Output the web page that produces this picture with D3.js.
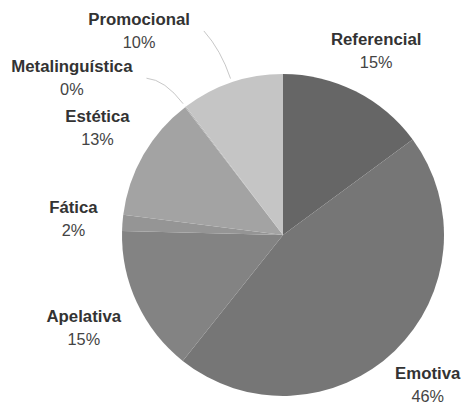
<!DOCTYPE html>
<html>
<head>
<meta charset="utf-8">
<script src="https://cdn.jsdelivr.net/npm/d3@7/dist/d3.min.js"></script>
<style>
  html, body { margin: 0; padding: 0; background: #fff; }
  svg { display: block; }
  text { font-family: "Liberation Sans", Arial, sans-serif; }
</style>
</head>
<body>
<svg id="chart" width="461" height="402"></svg>
<script>
// ---- data ----
const categories = ["Referencial", "Emotiva", "Apelativa", "Fática", "Estética", "Metalinguística", "Promocional"];
const values = [14.9, 45.8, 14.7, 1.6, 12.6, 0.1, 10.3];
const colors = ["#666666", "#767676", "#838383", "#959595", "#a3a3a3", "#b3b3b3", "#c5c5c5"];

// ---- layout ----
const W = 461, H = 402;
const cx = 283, cy = 235, radius = 161;
// labels that were moved away from their slice (polar: degrees clockwise from top, distance)
const labelMoved = { "Metalinguística": [306.6, 263], "Promocional": [324.8, 249.7] };

const svg = d3.select("#chart");
svg.append("rect").attr("width", W).attr("height", H).attr("fill", "#fff");

const data = categories.map((c, i) => ({ name: c, value: values[i], color: colors[i] }));
const total = d3.sum(values);

const pie = d3.pie().sort(null).value(d => d.value).startAngle(0).endAngle(2 * Math.PI);
const arcs = pie(data);
const arc = d3.arc().innerRadius(0).outerRadius(radius);

const g = svg.append("g").attr("transform", `translate(${cx},${cy})`);

g.selectAll("path.slice")
  .data(arcs)
  .join("path")
  .attr("class", "slice")
  .attr("d", arc)
  .attr("fill", d => d.data.color);

const polar = (ang, r) => [r * Math.sin(ang), -r * Math.cos(ang)];

// labels
const labels = g.selectAll("g.label")
  .data(arcs)
  .join("g")
  .attr("class", "label");

labels.append("text")
  .attr("class", "name")
  .attr("text-anchor", "middle")
  .attr("y", -6)
  .attr("font-size", 16.8)
  .attr("font-weight", "bold")
  .attr("fill", "#333")
  .text(d => d.data.name);

labels.append("text")
  .attr("class", "pct")
  .attr("text-anchor", "middle")
  .attr("y", 17)
  .attr("font-size", 16.3)
  .attr("fill", "#444")
  .text(d => Math.round(d.data.value / total * 100) + "%");

labels.each(function(d) {
  const sel = d3.select(this);
  const mid = (d.startAngle + d.endAngle) / 2;
  const hw = sel.select("text.name").node().getComputedTextLength() / 2;
  let pos;
  if (labelMoved[d.data.name]) {
    const m = labelMoved[d.data.name];
    pos = polar(m[0] * Math.PI / 180, m[1]);
    // leader line from slice edge to the label
    const p0 = polar(mid, radius + 4);
    const c = polar(mid, radius + 34);
    const p2 = [pos[0] + hw + 14, pos[1]];
    const path = d3.path();
    path.moveTo(p0[0], p0[1]);
    path.quadraticCurveTo(c[0], c[1], p2[0], p2[1]);
    g.insert("path", "g.label")
      .attr("d", path.toString())
      .attr("fill", "none")
      .attr("stroke", "#c8c8c8")
      .attr("stroke-width", 1);
  } else {
    const R = 186 + Math.abs(Math.sin(mid)) * hw;
    pos = polar(mid, R);
  }
  sel.attr("transform", `translate(${pos[0]},${pos[1]})`);
});
</script>
</body>
</html>
